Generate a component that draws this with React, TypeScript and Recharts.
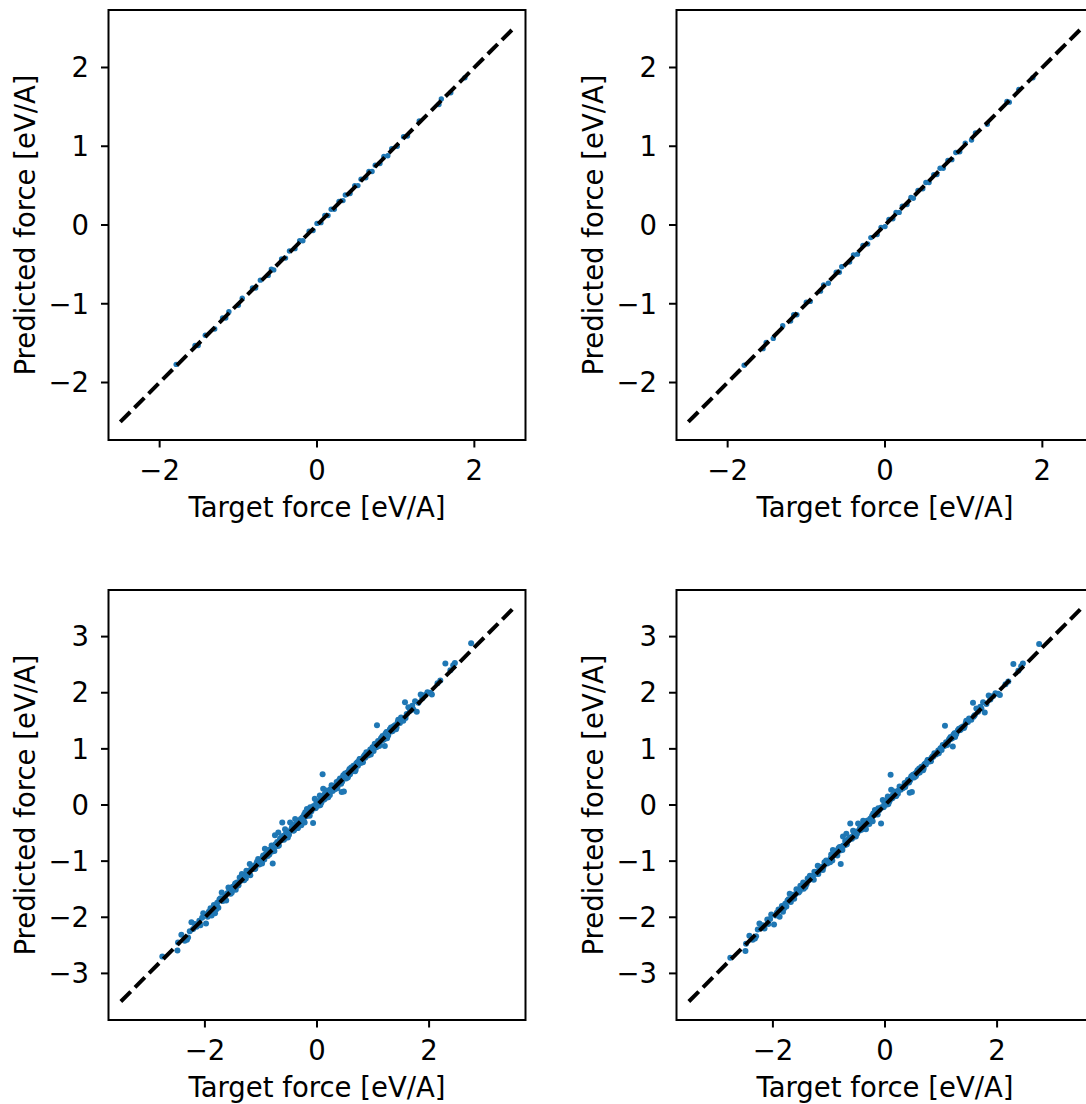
import React from 'react';
import { ScatterChart, Scatter, XAxis, YAxis, ReferenceArea, ReferenceLine } from 'recharts';

const FONT = '"DejaVu Sans", "Liberation Sans", sans-serif';
const BLUE = '#1f77b4';
const FS = 27.5;

// top row: predictions sit right on the diagonal
const topTarget = [
  -1.79, -1.55, -1.51, -1.42, -1.3, -1.2, -1.16, -1.12, -1.0, -0.95, -0.82, -0.78, -0.72, -0.62,
  -0.58, -0.55, -0.45, -0.4, -0.35, -0.28, -0.22, -0.18, -0.1, -0.05, 0.0, 0.05, 0.1, 0.14, 0.18,
  0.22, 0.28, 0.33, 0.36, 0.42, 0.48, 0.52, 0.56, 0.62, 0.66, 0.7, 0.74, 0.8, 0.85, 0.9, 0.95,
  1.02, 1.1, 1.15, 1.3, 1.55, 1.58, 1.7, 1.88,
];
const topPredLeft = [
  -1.77, -1.53, -1.53, -1.4, -1.32, -1.18, -1.18, -1.1, -1.02, -0.93, -0.8, -0.8, -0.7, -0.64,
  -0.56, -0.57, -0.43, -0.42, -0.33, -0.3, -0.2, -0.2, -0.08, -0.07, 0.02, 0.03, 0.12, 0.12, 0.2,
  0.2, 0.3, 0.31, 0.38, 0.4, 0.5, 0.5, 0.58, 0.6, 0.68, 0.68, 0.76, 0.78, 0.87, 0.88, 0.97,
  1.0, 1.12, 1.13, 1.32, 1.53, 1.6, 1.68, 1.87,
];
const topPredRight = [
  -1.78, -1.57, -1.49, -1.44, -1.28, -1.22, -1.14, -1.14, -0.98, -0.97, -0.84, -0.76, -0.74, -0.6,
  -0.6, -0.53, -0.47, -0.38, -0.37, -0.26, -0.24, -0.16, -0.12, -0.03, -0.02, 0.07, 0.08, 0.16, 0.16,
  0.24, 0.26, 0.35, 0.34, 0.44, 0.46, 0.54, 0.54, 0.64, 0.64, 0.72, 0.72, 0.82, 0.83, 0.92, 0.93,
  1.04, 1.08, 1.17, 1.28, 1.57, 1.56, 1.72, 1.87,
];

// bottom row: visible scatter around the diagonal
const bottomTarget = [
  -2.76, -2.49, -2.48, -2.42, -2.36, -2.32, -2.27, -2.24, -2.21, -2.15, -2.1, -2.03, -1.98, -1.93,
  -1.88, -1.84, -1.82, -1.76, -1.72, -1.7, -1.68, -1.64, -1.62, -1.58, -1.56, -1.52, -1.51, -1.47,
  -1.46, -1.43, -1.42, -1.38, -1.36, -1.34, -1.32, -1.29, -1.27, -1.26, -1.23, -1.2, -1.18, -1.14,
  -1.12, -1.11, -1.08, -1.05, -1.03, -0.99, -0.97, -0.96, -0.94, -0.93, -0.9, -0.87, -0.85, -0.83,
  -0.81, -0.79, -0.77, -0.75, -0.73, -0.71, -0.69, -0.68, -0.66, -0.64, -0.62, -0.6, -0.57, -0.55,
  -0.53, -0.51, -0.48, -0.46, -0.43, -0.41, -0.39, -0.37, -0.36, -0.34, -0.32, -0.3, -0.28, -0.26,
  -0.24, -0.22, -0.21, -0.19, -0.18, -0.16, -0.14, -0.12, -0.1, -0.07, -0.06, -0.04, -0.02, 0.0,
  0.02, 0.04, 0.05, 0.07, 0.09, 0.1, 0.11, 0.13, 0.15, 0.17, 0.19, 0.21, 0.23, 0.26, 0.28, 0.3,
  0.32, 0.35, 0.37, 0.39, 0.41, 0.43, 0.44, 0.46, 0.48, 0.5, 0.52, 0.54, 0.56, 0.58, 0.59, 0.62,
  0.65, 0.67, 0.68, 0.7, 0.73, 0.75, 0.77, 0.8, 0.83, 0.86, 0.89, 0.91, 0.95, 0.97, 1.0, 1.01,
  1.04, 1.07, 1.09, 1.12, 1.15, 1.18, 1.21, 1.22, 1.24, 1.27, 1.3, 1.33, 1.36, 1.39, 1.42, 1.45,
  1.48, 1.51, 1.54, 1.57, 1.6, 1.63, 1.66, 1.7, 1.72, 1.75, 1.78, 1.81, 1.85, 1.88, 1.93, 1.97,
  2.02, 2.05, 2.15, 2.2, 2.29, 2.38, 2.43, 2.46, 2.75,
  -2.05, -1.95, -1.78, -1.66, -1.6, -1.54, -1.49, -1.4, -1.35, -1.3,
  -1.25, -1.21, -1.16, -1.1, -1.06, -1.01, -0.92, -0.88, -0.84, -0.8,
  -0.74, -0.7, -0.65, -0.59, -0.56, -0.5, -0.45, -0.42, -0.38, -0.33,
  -0.29, -0.25, -0.2, -0.15, -0.08, -0.03, 0.03, 0.08, 0.12, 0.16,
  0.24, 0.34, 0.4, 0.45, 0.49, 0.53, 0.57, 0.63, 0.72, 0.78,
  0.85, 0.93, 0.99, 1.06, 1.14, 1.2, 1.26, 1.35, 1.44, 1.58,
  -2.3, -2.18, -2.08, -1.9, -1.8, -1.74, -1.45, -1.33, -1.19, -1.07,
  -0.98, -0.86, -0.76, -0.63, -0.52, -0.44, -0.35, -0.23, -0.13, -0.01,
  0.06, 0.14, 0.2, 0.27, 0.36, 0.47, 0.55, 0.61, 0.69, 0.76,
  0.82, 0.88, 0.96, 1.03, 1.11, 1.17, 1.25, 1.32, 1.41, 1.5,
];
const bottomPredLeft = [
  -2.7, -2.59, -2.45, -2.31, -2.42, -2.4, -2.25, -2.09, -2.21, -2.17, -2.06, -1.93, -2.11, -1.9,
  -1.97, -1.78, -1.93, -1.83, -1.66, -1.56, -1.71, -1.62, -1.7, -1.47, -1.52, -1.56, -1.46, -1.43,
  -1.4, -1.38, -1.44, -1.29, -1.35, -1.23, -1.29, -1.26, -1.31, -1.17, -1.22, -1.05, -1.15, -1.14,
  -1.08, -1.14, -1.04, -0.96, -1.06, -1.02, -0.93, -0.9, -0.97, -0.78, -0.86, -0.81, -0.88, -0.79,
  -0.72, -1.04, -0.76, -0.54, -0.7, -0.66, -0.49, -0.72, -0.6, -0.63, -0.31, -0.55, -0.43, -0.58,
  -0.47, -0.49, -0.31, -0.44, -0.4, -0.45, -0.25, -0.34, -0.37, -0.41, -0.3, -0.28, -0.36, -0.22,
  -0.27, -0.31, -0.13, -0.2, -0.07, -0.14, -0.18, -0.04, -0.11, -0.32, -0.02, 0.11, -0.05, 0.03,
  0.05, -0.01, 0.17, 0.04, 0.12, 0.55, 0.29, 0.1, 0.19, 0.26, 0.14, 0.23, 0.18, 0.35, 0.25, 0.33,
  0.28, 0.41, 0.34, 0.43, 0.47, 0.38, 0.23, 0.5, 0.24, 0.56, 0.47, 0.58, 0.52, 0.64, 0.55, 0.6,
  0.7, 0.63, 0.6, 0.74, 0.7, 0.79, 0.82, 0.77, 0.86, 0.84, 0.93, 0.88, 0.99, 0.95, 1.03, 0.96,
  1.07, 1.42, 1.14, 1.09, 1.2, 1.16, 1.05, 1.27, 1.3, 1.24, 1.35, 1.31, 1.4, 1.42, 1.38, 1.52,
  1.46, 1.55, 1.5, 1.83, 1.62, 1.74, 1.68, 1.77, 1.7, 1.85, 1.66, 1.82, 1.97, 1.9, 1.96, 2.01,
  2.0, 1.97, 2.17, 2.22, 2.52, 2.4, 2.49, 2.53, 2.88,
  -2.01, -1.99, -1.74, -1.69, -1.57, -1.58, -1.45, -1.43, -1.31, -1.34,
  -1.21, -1.24, -1.12, -1.13, -1.02, -1.04, -0.88, -0.91, -0.8, -0.83,
  -0.7, -0.73, -0.61, -0.62, -0.52, -0.53, -0.41, -0.46, -0.34, -0.36,
  -0.25, -0.28, -0.16, -0.18, -0.04, -0.06, 0.07, 0.05, 0.16, 0.13,
  0.28, 0.31, 0.44, 0.42, 0.53, 0.5, 0.61, 0.6, 0.76, 0.75,
  0.89, 0.9, 1.03, 1.03, 1.18, 1.17, 1.3, 1.32, 1.48, 1.55,
  -2.36, -2.12, -2.14, -1.84, -1.86, -1.68, -1.51, -1.27, -1.25, -1.01,
  -1.04, -0.8, -0.82, -0.57, -0.58, -0.38, -0.41, -0.17, -0.19, 0.05,
  0.0, 0.2, 0.14, 0.33, 0.3, 0.53, 0.49, 0.67, 0.63, 0.82,
  0.76, 0.94, 0.9, 1.09, 1.05, 1.23, 1.19, 1.38, 1.35, 1.56,
];
const bottomPredRight = [
  -2.72, -2.6, -2.47, -2.33, -2.4, -2.38, -2.22, -2.11, -2.19, -2.2, -2.04, -1.95, -2.13, -1.92,
  -1.99, -1.8, -1.9, -1.81, -1.68, -1.58, -1.73, -1.6, -1.67, -1.5, -1.54, -1.53, -1.44, -1.46,
  -1.38, -1.41, -1.46, -1.31, -1.33, -1.26, -1.27, -1.29, -1.33, -1.19, -1.2, -1.08, -1.17, -1.12,
  -1.1, -1.16, -1.02, -0.99, -1.04, -1.0, -0.95, -0.88, -0.99, -0.8, -0.84, -0.83, -0.9, -0.77,
  -0.75, -1.05, -0.74, -0.56, -0.72, -0.64, -0.51, -0.7, -0.62, -0.61, -0.33, -0.57, -0.46, -0.56,
  -0.49, -0.47, -0.33, -0.46, -0.38, -0.43, -0.28, -0.36, -0.35, -0.43, -0.28, -0.31, -0.34, -0.24,
  -0.25, -0.29, -0.15, -0.18, -0.09, -0.16, -0.16, -0.06, -0.09, -0.33, -0.04, 0.09, -0.03, 0.01,
  0.07, 0.01, 0.15, 0.06, 0.1, 0.54, 0.27, 0.12, 0.17, 0.24, 0.16, 0.21, 0.2, 0.33, 0.27, 0.31,
  0.3, 0.39, 0.36, 0.41, 0.45, 0.4, 0.22, 0.48, 0.23, 0.54, 0.49, 0.56, 0.54, 0.62, 0.57, 0.58,
  0.68, 0.65, 0.62, 0.72, 0.72, 0.77, 0.8, 0.79, 0.84, 0.86, 0.91, 0.9, 0.97, 0.97, 1.01, 0.98,
  1.05, 1.41, 1.12, 1.11, 1.18, 1.18, 1.04, 1.25, 1.28, 1.26, 1.33, 1.33, 1.38, 1.4, 1.4, 1.5,
  1.48, 1.53, 1.52, 1.82, 1.6, 1.72, 1.66, 1.75, 1.72, 1.83, 1.65, 1.8, 1.95, 1.88, 1.94, 1.99,
  1.98, 1.96, 2.15, 2.2, 2.51, 2.39, 2.47, 2.52, 2.87,
  -2.03, -1.97, -1.76, -1.67, -1.59, -1.56, -1.47, -1.41, -1.33, -1.32,
  -1.23, -1.22, -1.14, -1.11, -1.04, -1.02, -0.9, -0.89, -0.82, -0.81,
  -0.72, -0.71, -0.63, -0.6, -0.54, -0.51, -0.43, -0.44, -0.36, -0.34,
  -0.27, -0.26, -0.18, -0.16, -0.06, -0.04, 0.05, 0.07, 0.14, 0.15,
  0.26, 0.33, 0.42, 0.44, 0.51, 0.52, 0.59, 0.62, 0.74, 0.77,
  0.87, 0.92, 1.01, 1.05, 1.16, 1.19, 1.28, 1.34, 1.46, 1.57,
  -2.34, -2.14, -2.12, -1.86, -1.84, -1.7, -1.49, -1.29, -1.23, -1.03,
  -1.02, -0.82, -0.8, -0.59, -0.56, -0.4, -0.39, -0.19, -0.17, 0.03,
  0.02, 0.18, 0.16, 0.31, 0.32, 0.51, 0.51, 0.65, 0.65, 0.8,
  0.78, 0.92, 0.92, 1.07, 1.07, 1.21, 1.21, 1.36, 1.37, 1.54,
];

const topTicksX = [-2, 0, 2];
const topTicksY = [-2, -1, 0, 1, 2];
const bottomTicksX = [-2, 0, 2];
const bottomTicksY = [-3, -2, -1, 0, 1, 2, 3];
const topDomainX: [number, number] = [-2.65, 2.65];
const topDomainY: [number, number] = [-2.73, 2.73];
const bottomDomainX: [number, number] = [-3.72, 3.72];
const bottomDomainY: [number, number] = [-3.83, 3.83];
const topDiag = [-2.5, 2.5];
const bottomDiag = [-3.5, 3.5];

const fmt = (v: number) => (v < 0 ? '\u2212' + Math.abs(v) : String(v));

const XTitle = (props: any) => {
  const vb = props.viewBox;
  return (
    <text x={vb.x + vb.width / 2} y={vb.y + 77} textAnchor="middle" fontSize={FS} fontFamily={FONT} fill="#000">
      Target force [eV/A]
    </text>
  );
};

const YTitle = (props: any) => {
  const vb = props.viewBox;
  const x = vb.x + 35;
  const y = vb.y + vb.height / 2;
  return (
    <text x={x} y={y} transform={`rotate(-90, ${x}, ${y})`} textAnchor="middle" fontSize={FS} fontFamily={FONT} fill="#000">
      Predicted force [eV/A]
    </text>
  );
};

const dot = (r: number) => (p: any) => <circle cx={p.cx} cy={p.cy} r={r} fill={BLUE} />;

interface PanelProps {
  left: number;
  top: number;
  target: number[];
  pred: number[];
  diag: number[];
  domainX: [number, number];
  domainY: [number, number];
  ticksX: number[];
  ticksY: number[];
  r: number;
}

const Panel = ({ left, top, target, pred, diag, domainX, domainY, ticksX, ticksY, r }: PanelProps) => {
  const pts = target.map((t, i) => ({ x: t, y: pred[i] }));
  const tick = { fontSize: FS, fill: '#000', fontFamily: FONT };
  return (
    <div style={{ position: 'absolute', left, top }}>
      <ScatterChart width={540} height={530} margin={{ top: 10, right: 14.5, bottom: 0, left: 0 }}>
        <XAxis
          type="number"
          dataKey="x"
          domain={domainX}
          ticks={ticksX}
          allowDataOverflow
          tickFormatter={fmt}
          axisLine={false}
          tickLine={{ stroke: '#000', strokeWidth: 2 }}
          tickSize={7.5}
          tickMargin={12.5}
          tick={tick}
          height={90}
          label={XTitle}
        />
        <YAxis
          type="number"
          dataKey="y"
          domain={domainY}
          ticks={ticksY}
          allowDataOverflow
          tickFormatter={fmt}
          axisLine={false}
          tickLine={{ stroke: '#000', strokeWidth: 2 }}
          tickSize={7.5}
          tickMargin={12}
          tick={tick}
          width={108.5}
          label={YTitle}
        />
        <Scatter data={pts} fill={BLUE} shape={dot(r)} isAnimationActive={false} />
        <ReferenceLine
          segment={[
            { x: diag[0], y: diag[0] },
            { x: diag[1], y: diag[1] },
          ]}
          stroke="#000"
          strokeWidth={4}
          strokeDasharray="14 6"
          ifOverflow="visible"
          zIndex={700}
        />
        <ReferenceArea
          x1={domainX[0]}
          x2={domainX[1]}
          y1={domainY[0]}
          y2={domainY[1]}
          fill="none"
          stroke="#000"
          strokeWidth={2}
          ifOverflow="visible"
        />
      </ScatterChart>
    </div>
  );
};

export default function App() {
  return (
    <div
      style={{
        position: 'absolute',
        left: 0,
        top: 0,
        width: 1086,
        height: 1104,
        overflow: 'hidden',
        background: '#fff',
      }}
    >
      <Panel left={0} top={0} target={topTarget} pred={topPredLeft} diag={topDiag}
        domainX={topDomainX} domainY={topDomainY} ticksX={topTicksX} ticksY={topTicksY} r={2.7} />
      <Panel left={567.5} top={0} target={topTarget} pred={topPredRight} diag={topDiag}
        domainX={topDomainX} domainY={topDomainY} ticksX={topTicksX} ticksY={topTicksY} r={2.7} />
      <Panel left={0} top={580} target={bottomTarget} pred={bottomPredLeft} diag={bottomDiag}
        domainX={bottomDomainX} domainY={bottomDomainY} ticksX={bottomTicksX} ticksY={bottomTicksY} r={3} />
      <Panel left={567.5} top={580} target={bottomTarget} pred={bottomPredRight} diag={bottomDiag}
        domainX={bottomDomainX} domainY={bottomDomainY} ticksX={bottomTicksX} ticksY={bottomTicksY} r={3} />
    </div>
  );
}
